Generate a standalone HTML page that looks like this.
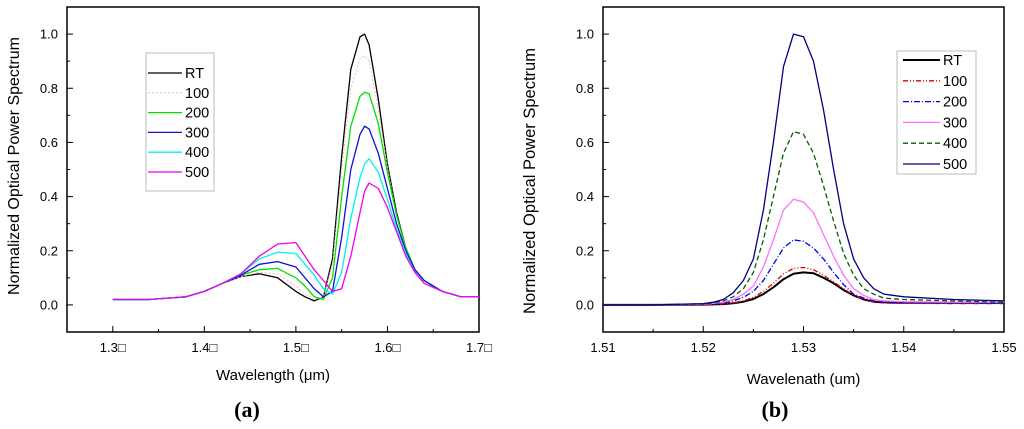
<!DOCTYPE html>
<html><head><meta charset="utf-8"><style>
body{margin:0;background:#fff;}
svg{display:block;font-family:"Liberation Sans",sans-serif;}
</style></head><body>
<svg id="s" width="1024" height="429" viewBox="0 0 1024 429"></svg>
<script>
// ---- panel (a) data ----
const aX=[1.30,1.32,1.34,1.36,1.38,1.40,1.42,1.44,1.46,1.48,1.50,1.51,1.52,1.53,1.54,1.55,1.56,1.57,1.575,1.58,1.59,1.60,1.61,1.62,1.63,1.64,1.66,1.68,1.70];
const aRT=[0.02,0.02,0.02,0.025,0.03,0.05,0.08,0.105,0.115,0.10,0.05,0.03,0.015,0.03,0.17,0.55,0.87,0.99,1.0,0.96,0.76,0.52,0.34,0.21,0.13,0.09,0.05,0.03,0.03];
const a100=[0.02,0.02,0.02,0.025,0.03,0.05,0.08,0.105,0.12,0.115,0.07,0.04,0.02,0.03,0.15,0.50,0.80,0.91,0.92,0.90,0.72,0.51,0.33,0.21,0.13,0.09,0.05,0.03,0.03];
const a200=[0.02,0.02,0.02,0.025,0.03,0.05,0.08,0.11,0.13,0.135,0.10,0.07,0.03,0.02,0.10,0.40,0.66,0.77,0.785,0.78,0.67,0.49,0.33,0.21,0.13,0.09,0.05,0.03,0.03];
const a300=[0.02,0.02,0.02,0.025,0.03,0.05,0.08,0.11,0.15,0.16,0.14,0.10,0.06,0.03,0.05,0.25,0.50,0.63,0.66,0.65,0.56,0.43,0.30,0.20,0.13,0.09,0.05,0.03,0.03];
const a400=[0.02,0.02,0.02,0.025,0.03,0.05,0.08,0.115,0.17,0.195,0.19,0.15,0.11,0.06,0.04,0.12,0.32,0.47,0.52,0.54,0.49,0.39,0.28,0.19,0.12,0.08,0.05,0.03,0.03];
const a500=[0.02,0.02,0.02,0.025,0.03,0.05,0.08,0.115,0.18,0.225,0.23,0.18,0.13,0.09,0.05,0.06,0.18,0.34,0.42,0.45,0.43,0.36,0.27,0.18,0.12,0.08,0.05,0.03,0.03];
const aXTicks=["1.3","1.4","1.5","1.6","1.7"];
// ---- panel (b) data ----
const bX=[1.51,1.515,1.52,1.521,1.522,1.523,1.524,1.525,1.526,1.527,1.528,1.529,1.530,1.531,1.532,1.533,1.534,1.535,1.536,1.537,1.538,1.54,1.545,1.55];
const bRT=[0,0,0.001,0.002,0.003,0.006,0.012,0.022,0.04,0.065,0.095,0.115,0.12,0.117,0.10,0.08,0.055,0.035,0.02,0.012,0.009,0.008,0.008,0.008];
const b100=[0,0,0.001,0.002,0.004,0.008,0.015,0.028,0.05,0.08,0.115,0.135,0.138,0.13,0.11,0.085,0.06,0.035,0.02,0.012,0.008,0.006,0.005,0.005];
const b200=[0,0,0.002,0.004,0.008,0.015,0.028,0.05,0.09,0.15,0.21,0.24,0.235,0.21,0.17,0.12,0.075,0.04,0.025,0.015,0.01,0.008,0.007,0.006];
const b300=[0,0,0.003,0.006,0.01,0.02,0.04,0.07,0.14,0.24,0.35,0.39,0.38,0.34,0.26,0.18,0.11,0.06,0.035,0.02,0.015,0.012,0.01,0.01];
const b400=[0,0,0.004,0.008,0.015,0.03,0.06,0.12,0.24,0.40,0.56,0.64,0.63,0.56,0.44,0.31,0.19,0.11,0.06,0.04,0.025,0.02,0.015,0.01];
const b500=[0,0,0.005,0.01,0.02,0.045,0.09,0.17,0.35,0.60,0.88,1.0,0.99,0.90,0.72,0.50,0.30,0.17,0.10,0.06,0.04,0.03,0.02,0.015];
const bXTicks=["1.51","1.52","1.53","1.54","1.55"];
const yTicks=["0.0","0.2","0.4","0.6","0.8","1.0"];
const seriesNames=["RT","100","200","300","400","500"];

const NS="http://www.w3.org/2000/svg";
const svg=document.getElementById('s');
function el(t,a,p){const e=document.createElementNS(NS,t);for(const k in a)e.setAttribute(k,a[k]);(p||svg).appendChild(e);return e;}

function panel(cfg){
  const g=el('g',{});
  
  
  const {x0,x1,y0,y1,xmin,xmax}=cfg;
  const ymin=-0.1,ymax=1.1;
  const sx=v=>x0+(v-xmin)/(xmax-xmin)*(x1-x0);
  const sy=v=>y1-(v-ymin)/(ymax-ymin)*(y1-y0);
  const fr=el('rect',{x:x0,y:y0,width:x1-x0,height:y1-y0,fill:'none',stroke:'#000','stroke-width':1.5},g);
  
  
  for(let i=0;i<=10;i++){const v=i*0.1;const y=sy(v);const maj=i%2==0;
    el('line',{x1:x0,x2:x0+(maj?6:3),y1:y,y2:y,stroke:'#000'},g);
    if(maj){const t=el('text',{x:x0-9,y:y+4.5,'text-anchor':'end','font-size':13},g);t.textContent=yTicks[i/2];
      }
  }
  const n=cfg.xTicks.length;
  for(let i=0;i<n;i++){const v=parseFloat(cfg.xTicks[i]);const x=sx(v);
    el('line',{x1:x,x2:x,y1:y1,y2:y1-6,stroke:'#000'},g);
    const t=el('text',{x:x,y:y1+20,'text-anchor':'middle','font-size':13},g);
    t.textContent=cfg.xTicks[i]+(cfg.box?"□":"");
    
    if(i<n-1){const xm=sx(v+cfg.step/2);el('line',{x1:xm,x2:xm,y1:y1,y2:y1-3,stroke:'#000'},g);}
  }
  cfg.series.forEach((s,k)=>{
    const d=cfg.xs.map((xv,i)=>(i?'L':'M')+sx(xv).toFixed(1)+','+sy(s.v[i]).toFixed(1)).join(' ');
    const p=el('path',{d:d,fill:'none',stroke:s.c,'stroke-width':s.w||1.3,'stroke-dasharray':s.da||'none','stroke-linejoin':'round'},g);
    
    
  });
  const L=cfg.leg;
  const lb=el('rect',{x:L.x,y:L.y,width:L.w,height:L.h,fill:'#fff',stroke:'#bbb','stroke-width':1},g);
  
  cfg.series.forEach((s,k)=>{const yy=L.y+L.top+k*L.dy;
    el('line',{x1:L.x+L.l0,x2:L.x+L.l1,y1:yy,y2:yy,stroke:s.c,'stroke-width':s.w||1.3,'stroke-dasharray':s.da||'none'},g);
    const t=el('text',{x:L.x+L.l1+3,y:yy+5,'font-size':14.5},g);t.textContent=seriesNames[k];
    });
  const yt=el('text',{x:0,y:0,'text-anchor':'middle','font-size':cfg.yfs,transform:`translate(${cfg.ytx},${cfg.yty}) rotate(-90)`},g);
  yt.textContent='Normalized Optical Power Spectrum';
  
  const xt=el('text',{x:(x0+x1)/2,y:cfg.xty,'text-anchor':'middle','font-size':15},g);
  xt.textContent=cfg.xtitle;
  
  const cap=el('text',{x:cfg.capx,y:417,'text-anchor':'middle','font-size':22,'font-weight':'bold','font-family':'Liberation Serif,serif'},g);
  cap.textContent=cfg.cap;
  
}

panel({name:'chart-a',x0:67,x1:479,y0:7,y1:332,xmin:1.25,xmax:1.7,xs:aX,xTicks:aXTicks,step:0.1,box:true,
  series:[{v:aRT,c:'#000'},{v:a100,c:'#f4b8b8',da:'2,2',w:1},{v:a200,c:'#00e000'},{v:a300,c:'#1010d0'},{v:a400,c:'#00f0f0'},{v:a500,c:'#f000f0'}],
  leg:{x:146,y:53,w:68,h:138,top:20,dy:19.8,l0:2,l1:36},ytx:19,yty:166,yfs:16,xty:380,xtitle:'Wavelength (μm)',capx:247,cap:'(a)'});
panel({name:'chart-b',x0:603,x1:1004,y0:7,y1:332,xmin:1.51,xmax:1.55,xs:bX,xTicks:bXTicks,step:0.01,box:false,
  series:[{v:bRT,c:'#000',w:2},{v:b100,c:'#e00000',da:'5,2,1,2,1,2'},{v:b200,c:'#0000f0',da:'6,2,1,2'},{v:b300,c:'#ff70ff'},{v:b400,c:'#006000',da:'5,3'},{v:b500,c:'#000080'}],
  leg:{x:897,y:51,w:79,h:123,top:9,dy:20.8,l0:6,l1:43},ytx:535,yty:181,yfs:16.5,xty:384,xtitle:'Wavelenath (um)',capx:775,cap:'(b)'});
</script>
</body></html>
